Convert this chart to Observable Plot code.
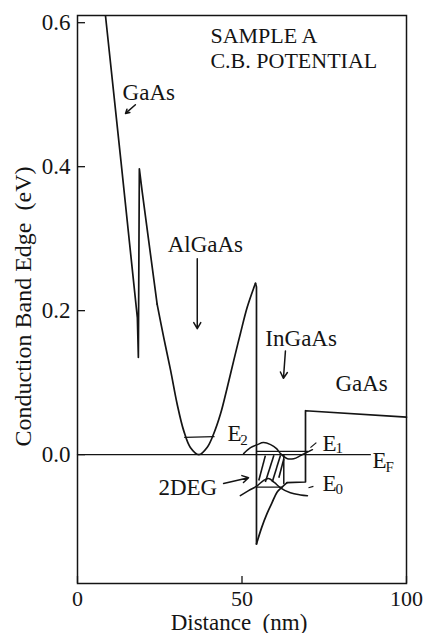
<!DOCTYPE html>
<html><head><meta charset="utf-8">
<script src="https://cdn.jsdelivr.net/npm/d3@7"></script>
<script src="https://cdn.jsdelivr.net/npm/@observablehq/plot@0.6"></script>
<style>body{margin:0;background:#fff} svg{display:block; font-family:'Liberation Serif','Times New Roman',serif}</style>
</head><body><div id="chart"></div>
<script>
// Conduction band edge (eV) vs distance (nm), in pieces
// GaAs cap + AlGaAs spike (straight)
const bandAX = [8.5, 13.2, 18.2, 18.5, 18.8, 19.7, 24.2];
const bandAY = [0.61, 0.408, 0.19, 0.135, 0.397, 0.364, 0.209];
// AlGaAs parabolic well (smooth)
const bandBX = [24.2, 26.2, 28.3, 30.3, 32.3, 34.3, 36.9, 39.4, 41.4, 43.5, 45.5, 47.5, 49.5, 51.6, 53.6, 54.1];
const bandBY = [0.209, 0.163, 0.117, 0.070, 0.033, 0.010, 0.0, 0.010, 0.029, 0.057, 0.093, 0.131, 0.168, 0.205, 0.232, 0.238];
// Heterojunction step (straight)
const bandCX = [54.1, 54.4, 54.4];
const bandCY = [0.238, 0.233, -0.124];
// InGaAs triangular well (smooth)
const bandDX = [54.4, 56.0, 57.6, 59.2, 60.7, 62.2, 63.7];
const bandDY = [-0.124, -0.101, -0.082, -0.066, -0.052, -0.045, -0.039];
// InGaAs flat part + GaAs buffer (straight)
const bandEX = [63.7, 69.3, 69.3, 100];
const bandEY = [-0.039, -0.038, 0.061, 0.052];

// Fermi level
const fermiX = [0, 89];
const fermiY = [0, 0];

// Sub-band levels
const e2LevelX = [32.6, 41.5]; const e2LevelY = [0.024, 0.025];
const e1LevelX = [54.6, 70.0]; const e1LevelY = [0.0046, 0.0046];
const e0LevelX = [54.6, 62.2]; const e0LevelY = [-0.045, -0.045];

// Wavefunctions
const psi1X = [50.5, 52.6, 54.7, 56.5, 58.7, 60.5, 61.7, 63.8, 65.7, 67.8, 69.6, 71.4];
const psi1Y = [0.0014, 0.0097, 0.0139, 0.0167, 0.0139, 0.0083, 0.0014, -0.0056, -0.0056, -0.0014, 0.0028, 0.0069];
const psi0X = [49.5, 52.0, 54.7, 56.5, 58.1, 59.9, 61.7, 64.7, 67.8, 69.9];
const psi0Y = [-0.057, -0.050, -0.043, -0.036, -0.033, -0.039, -0.046, -0.053, -0.056, -0.057];

// 2DEG hatched region
const hatchX1 = [55.1, 57.1, 59.2, 61.2];
const hatchY1 = [-0.036, -0.038, -0.038, -0.032];
const hatchX2 = [57.1, 59.7, 61.7, 62.7];
const hatchY2 = [-0.0014, -0.001, -0.001, -0.006];
const edgeX = [62.7, 62.7]; const edgeY = [-0.001, -0.040];

// Label pointer ticks
const pointerX1 = [70.8, 70.2]; const pointerY1 = [0.0097, -0.046];
const pointerX2 = [72.6, 71.7]; const pointerY2 = [0.0167, -0.044];

// Arrows
const arrowX1 = [17.6, 36.4, 63.2, 44.4];
const arrowY1 = [0.486, 0.272, 0.144, -0.040];
const arrowX2 = [14.6, 36.4, 62.6, 52.0];
const arrowY2 = [0.474, 0.175, 0.106, -0.032];

// Labels
const labelText = ["SAMPLE A", "C.B. POTENTIAL", "GaAs", "AlGaAs", "InGaAs", "GaAs", "2DEG", "E", "E", "E", "E"];
const labelX = [40.4, 40.4, 13.7, 27.4, 57.1, 78.4, 24.6, 45.6, 74.5, 89.7, 74.5];
const labelY = [0.572, 0.5375, 0.492, 0.282, 0.151, 0.089, -0.056, 0.0194, 0.0056, -0.018, -0.050];
const labelSize = [22, 22, 23, 23, 23, 23, 23, 23, 23, 23, 23];
const subText = ["2", "1", "F", "0"];
const subX = [49.5, 78.4, 93.6, 78.4];
const subY = [0.0139, 0.0028, -0.0236, -0.054];

// Ticks
const xTicks = [0, 50, 100];
const yTicks = [0.0, 0.2, 0.4, 0.6];

const pts = (xs, ys) => xs.map((x, i) => ({x, y: ys[i]}));
const segs = (a, b, c, d) => a.map((x1, i) => ({x1, y1: b[i], x2: c[i], y2: d[i]}));
const labels = labelText.map((t, i) => ({t, x: labelX[i], y: labelY[i], s: labelSize[i]}));
const subs = subText.map((t, i) => ({t, x: subX[i], y: subY[i]}));

const ink = "#141414";
const sw = 1.7;
const ff = "Liberation Serif";

const chart = Plot.plot({
  width: 425, height: 633,
  marginLeft: 77, marginRight: 19, marginTop: 15, marginBottom: 50,
  style: {fontFamily: ff, color: ink, background: "#fff"},
  x: {domain: [0, 100]},
  y: {domain: [-0.179, 0.61]},
  marks: [
    Plot.frame({stroke: ink, strokeWidth: 1.5}),
    Plot.axisX({ticks: xTicks, tickSize: 0, tickPadding: 6.5, fontSize: 22, fontFamily: ff, label: null}),
    Plot.axisY({ticks: yTicks, tickSize: 0, tickPadding: 7, fontSize: 23, fontFamily: ff, tickFormat: d => d.toFixed(1), label: null}),
    Plot.tickY(yTicks, {y: d => d, insetRight: 321, stroke: ink, strokeWidth: 1.3}),
    Plot.tickX(xTicks, {x: d => d, insetTop: 561, stroke: ink, strokeWidth: 1.3}),
    Plot.text(["Conduction Band Edge\u00a0 (eV)"], {frameAnchor: "left", rotate: -90, dx: -47, dy: 7, textAnchor: "middle", lineAnchor: "bottom", fontSize: 24, fontFamily: ff, fill: ink}),
    Plot.text(["Distance\u00a0 (nm)"], {frameAnchor: "bottom", dx: -3, dy: 46, textAnchor: "middle", lineAnchor: "bottom", fontSize: 23, fontFamily: ff, fill: ink}),
    Plot.line(pts(fermiX, fermiY), {x: "x", y: "y", stroke: ink, strokeWidth: 1.4}),
    Plot.line(pts(bandAX, bandAY), {x: "x", y: "y", stroke: ink, strokeWidth: sw, clip: true}),
    Plot.line(pts(bandBX, bandBY), {x: "x", y: "y", curve: "catmull-rom", stroke: ink, strokeWidth: sw}),
    Plot.line(pts(bandCX, bandCY), {x: "x", y: "y", stroke: ink, strokeWidth: sw}),
    Plot.line(pts(bandDX, bandDY), {x: "x", y: "y", curve: "catmull-rom", stroke: ink, strokeWidth: sw}),
    Plot.line(pts(bandEX, bandEY), {x: "x", y: "y", stroke: ink, strokeWidth: sw}),
    Plot.line(pts(e2LevelX, e2LevelY), {x: "x", y: "y", stroke: ink, strokeWidth: 1.3}),
    Plot.line(pts(e1LevelX, e1LevelY), {x: "x", y: "y", stroke: ink, strokeWidth: 1.3}),
    Plot.line(pts(e0LevelX, e0LevelY), {x: "x", y: "y", stroke: ink, strokeWidth: 1.3}),
    Plot.line(pts(psi1X, psi1Y), {x: "x", y: "y", curve: "catmull-rom", stroke: ink, strokeWidth: 1.5}),
    Plot.line(pts(psi0X, psi0Y), {x: "x", y: "y", curve: "catmull-rom", stroke: ink, strokeWidth: 1.5}),
    Plot.line(pts(edgeX, edgeY), {x: "x", y: "y", stroke: ink, strokeWidth: 1.5}),
    Plot.link(segs(hatchX1, hatchY1, hatchX2, hatchY2), {x1: "x1", y1: "y1", x2: "x2", y2: "y2", stroke: ink, strokeWidth: 1.6}),
    Plot.link(segs(pointerX1, pointerY1, pointerX2, pointerY2), {x1: "x1", y1: "y1", x2: "x2", y2: "y2", stroke: ink, strokeWidth: 1.2}),
    Plot.arrow(segs(arrowX1, arrowY1, arrowX2, arrowY2), {x1: "x1", y1: "y1", x2: "x2", y2: "y2", stroke: ink, strokeWidth: 1.5, headLength: 7}),
    Plot.text(labels, {x: "x", y: "y", text: "t", fontSize: "s", fontFamily: ff, textAnchor: "start", lineAnchor: "bottom", fill: ink}),
    Plot.text(subs, {x: "x", y: "y", text: "t", fontSize: 15, fontFamily: ff, textAnchor: "start", lineAnchor: "bottom", fill: ink})
  ]
});
document.getElementById("chart").appendChild(chart);
</script>
</body></html>
